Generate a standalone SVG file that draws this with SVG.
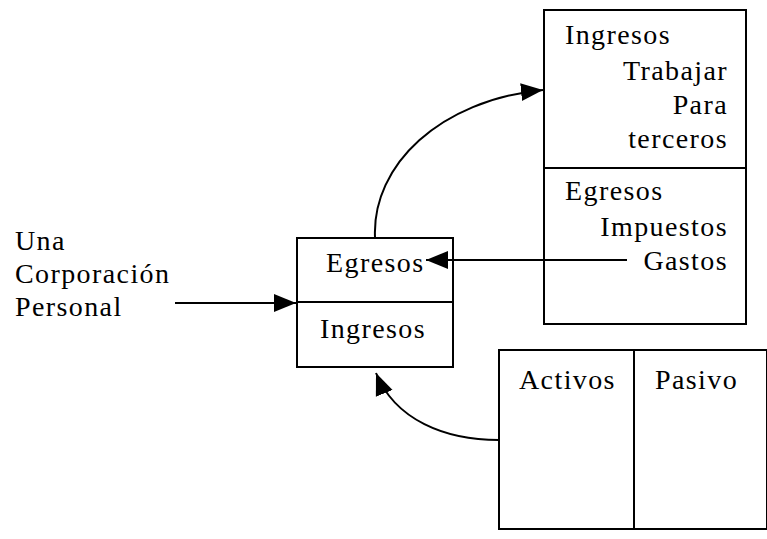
<svg xmlns="http://www.w3.org/2000/svg" width="767" height="539" viewBox="0 0 767 539">
<style>
.t{font-family:'Liberation Serif','Noto Serif',Tinos,FreeSerif,'DejaVu Serif',serif;font-size:28px;letter-spacing:1.4px;fill:#000}
.b{fill:#fff;stroke:#000;stroke-width:2}
.c{fill:none;stroke:#000;stroke-width:2}
.r{text-anchor:end}
</style>
<defs>
<marker id="ahl" viewBox="0 0 10 10" refX="10" refY="5" markerWidth="22" markerHeight="22" markerUnits="userSpaceOnUse" orient="auto"><path d="M0,0.9 L10,5 L0,9.1 Z" fill="#000"/></marker>
</defs>
<g id="label-left" class="t">
<text x="15" y="250">Una</text>
<text x="15" y="283">Corporación</text>
<text x="15" y="316">Personal</text>
</g>
<g id="center-box">
<rect class="b" x="297" y="238" width="156" height="129"/>
<line class="c" x1="297" y1="302" x2="453" y2="302"/>
<g class="t">
<text x="326" y="272">Egresos</text>
<text x="320" y="338">Ingresos</text>
</g>
</g>
<g id="right-box">
<rect class="b" x="544" y="10" width="202" height="314"/>
<line class="c" x1="544" y1="168" x2="746" y2="168"/>
<g class="t">
<text x="565" y="44">Ingresos</text>
<text class="r" x="728" y="80">Trabajar</text>
<text class="r" x="728" y="114">Para</text>
<text class="r" x="728" y="148">terceros</text>
<text x="565" y="200">Egresos</text>
<text class="r" x="728" y="236">Impuestos</text>
<text class="r" x="728" y="270">Gastos</text>
</g>
</g>
<g id="balance-box">
<rect class="b" x="499" y="350" width="268" height="179"/>
<line class="c" x1="634" y1="350" x2="634" y2="529"/>
<g class="t">
<text x="519" y="389">Activos</text>
<text x="655" y="389">Pasivo</text>
</g>
</g>
<g id="connectors">
<path class="c" d="M175,303 L296,303" marker-end="url(#ahl)"/>
<path class="c" d="M627,260 L426,260" marker-end="url(#ahl)"/>
<path class="c" d="M375,237 C372,165 440,100 543,90" marker-end="url(#ahl)"/>
<path class="c" d="M499,440 C445,440 395,420 376,373" marker-end="url(#ahl)"/>
</g>
</svg>
